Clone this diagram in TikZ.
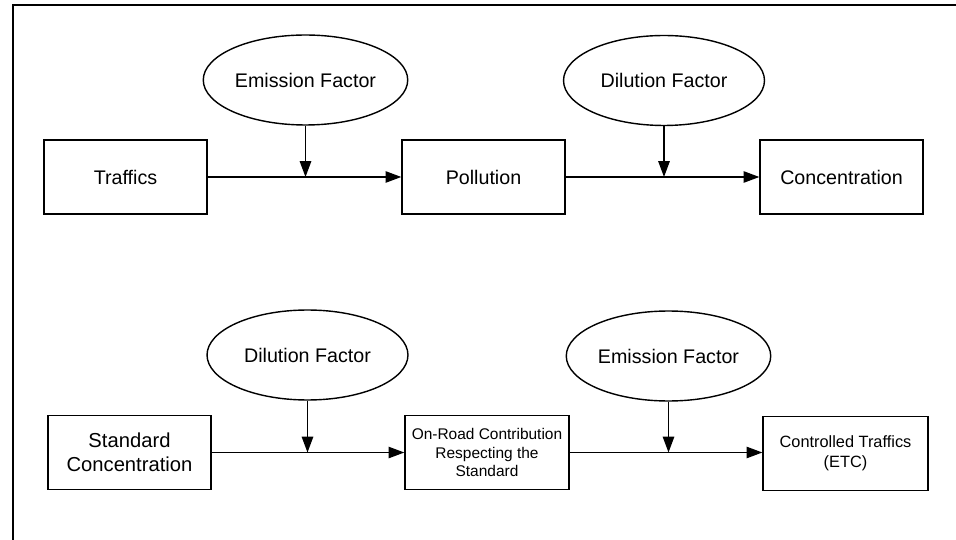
\documentclass[tikz,border=0pt]{standalone}
\usepackage{fontspec}
\setmainfont{Liberation Sans}
\usetikzlibrary{shapes.geometric,arrows.meta}

\begin{document}
\begin{tikzpicture}[x = 0.02cm, y = -0.02cm, line width = 0.8pt, >={Triangle[length=9pt,width=6.5pt]}]
\tikzstyle{stage} = [shape = rectangle, draw, minimum width = 3.26cm, minimum height = 1.48cm, inner sep = 2pt, align = center, font = \fontsize{11.2}{13.6}\selectfont]
\tikzstyle{factor} = [shape = ellipse, draw, minimum width = 4.02cm, minimum height = 1.8cm, inner sep = 1pt, font = \fontsize{11.2}{13.6}\selectfont]
\useasboundingbox (0, 0) rectangle (956, 540);
\draw (956, 5) -- (13, 5) -- (13, 540);
% first row
\node[stage] (R1-1) at (125.5, 177) {Traffics};
\node[stage] (R1-2) at (483.5, 177) {Pollution};
\node[stage] (R1-3) at (841.5, 177) {Concentration};
\node[factor] (F1-1) at (305.5, 80) {Emission Factor};
\node[factor] (F1-2) at (664, 80.5) {Dilution Factor};
\draw[->] (R1-1) -- (R1-2);
\draw[->] (R1-2) -- (R1-3);
\draw[->] (F1-1) -- (F1-1 |- R1-1.east);
\draw[->] (F1-2) -- (F1-2 |- R1-2.east);
% second row
\node[stage, font = \fontsize{11.5}{13.8}\selectfont] (R2-1) at (129.5, 452.5) {Standard\\Concentration};
\node[stage, minimum width = 3.28cm, font = \fontsize{8.8}{10.3}\selectfont] (R2-2) at (487, 452.5) {On-Road Contribution\\Respecting the\\Standard};
\node[stage, minimum width = 3.3cm, font = \fontsize{9.3}{11.4}\selectfont] (R2-3) at (845.5, 453.5) {Controlled Traffics\\(ETC)};
\node[factor] (F2-1) at (307.5, 355) {Dilution Factor};
\node[factor] (F2-2) at (668.5, 356) {Emission Factor};
\draw[->] (R2-1) -- (R2-2);
\draw[->] (R2-2) -- (R2-2 -| R2-3.west);
\draw[->] (F2-1) -- (F2-1 |- R2-1.east);
\draw[->] (F2-2) -- (F2-2 |- R2-2.east);
\end{tikzpicture}
\end{document}
